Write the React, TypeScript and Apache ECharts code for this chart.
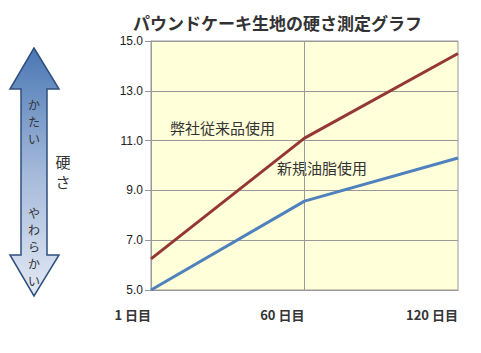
import React, { useEffect, useRef } from "react";
import * as echarts from "echarts";

const categories = ["1 日目", "60 日目", "120 日目"];
const conventional = [6.25, 11.1, 14.5];
const newFat = [5.0, 8.57, 10.3];
const yMin = 5;
const yMax = 15;
const yInterval = 2;

const FONT = "'Noto Sans CJK JP', 'Noto Sans', sans-serif";

function verticalText(str: string, x: number, y0: number, step: number, size: number) {
  return Array.from(str).map((ch, i) => ({
    type: "text",
    x,
    y: y0 + i * step,
    style: {
      text: ch,
      fontSize: size,
      fill: "#333",
      align: "center",
      verticalAlign: "middle",
      fontFamily: FONT,
    },
  }));
}

export default function App() {
  const ref = useRef<HTMLDivElement>(null);
  useEffect(() => {
    document.body.style.margin = "0";
    const chart = echarts.init(ref.current!, null, { renderer: "svg" });
    chart.setOption({
      animation: false,
      backgroundColor: "#ffffff",
      textStyle: { fontFamily: FONT },
      title: {
        text: "パウンドケーキ生地の硬さ測定グラフ",
        left: 128,
        top: 9,
        textStyle: { fontSize: 17, fontWeight: "bold", color: "#333", fontFamily: FONT },
      },
      grid: {
        left: 151,
        right: 23,
        top: 41,
        bottom: 63,
        show: true,
        backgroundColor: "#FFFFDA",
        borderColor: "#999999",
        borderWidth: 1,
      },
      xAxis: {
        type: "category",
        data: categories,
        boundaryGap: false,
        axisLine: { show: true, lineStyle: { color: "#999999", width: 1 } },
        axisTick: { show: false },
        axisLabel: {
          align: "right",
          margin: 18,
          fontSize: 13,
          fontWeight: "bold",
          color: "#333",
          fontFamily: FONT,
          interval: 0,
        },
        splitLine: {
          show: true,
          interval: (i: number) => i === 1,
          lineStyle: { color: "#999999", width: 1 },
        },
      },
      yAxis: {
        type: "value",
        min: yMin,
        max: yMax,
        interval: yInterval,
        axisLine: { show: true, lineStyle: { color: "#999999", width: 1 } },
        axisTick: { show: true, length: 6, lineStyle: { color: "#999999" } },
        axisLabel: {
          formatter: (v: number) => v.toFixed(1),
          fontSize: 12,
          color: "#222",
          margin: 8,
          fontFamily: "'Liberation Sans', sans-serif",
        },
        splitLine: { show: true, lineStyle: { color: "#999999", width: 1 } },
      },
      series: [
        {
          type: "line",
          data: conventional,
          symbol: "none",
          lineStyle: { color: "#953735", width: 3 },
        },
        {
          type: "line",
          data: newFat,
          symbol: "none",
          lineStyle: { color: "#4F81BD", width: 3 },
        },
      ],
      graphic: [
        {
          type: "polygon",
          shape: {
            points: [
              [34, 48],
              [59, 89],
              [47, 89],
              [47, 255],
              [59, 255],
              [34, 296],
              [10, 255],
              [21, 255],
              [21, 89],
              [10, 89],
            ],
          },
          style: {
            fill: new echarts.graphic.LinearGradient(0, 0, 0, 1, [
              { offset: 0, color: "#4A77B4" },
              { offset: 0.5, color: "#A4B9DA" },
              { offset: 1, color: "#E2E9F4" },
            ]),
            stroke: "#2F4F7F",
            lineWidth: 1.5,
          },
        },
        ...verticalText("かたい", 34, 104, 17, 12),
        ...verticalText("やわらかい", 34, 212, 17, 12),
        ...verticalText("硬さ", 63, 161, 20, 15),
        {
          type: "text",
          x: 170,
          y: 127,
          style: {
            text: "弊社従来品使用",
            fontSize: 15,
            fill: "#333",
            align: "left",
            verticalAlign: "middle",
            fontFamily: FONT,
          },
        },
        {
          type: "text",
          x: 277,
          y: 167,
          style: {
            text: "新規油脂使用",
            fontSize: 15,
            fill: "#333",
            align: "left",
            verticalAlign: "middle",
            fontFamily: FONT,
          },
        },
      ],
    });
    return () => chart.dispose();
  }, []);
  return <div ref={ref} style={{ width: 481, height: 353 }} />;
}
